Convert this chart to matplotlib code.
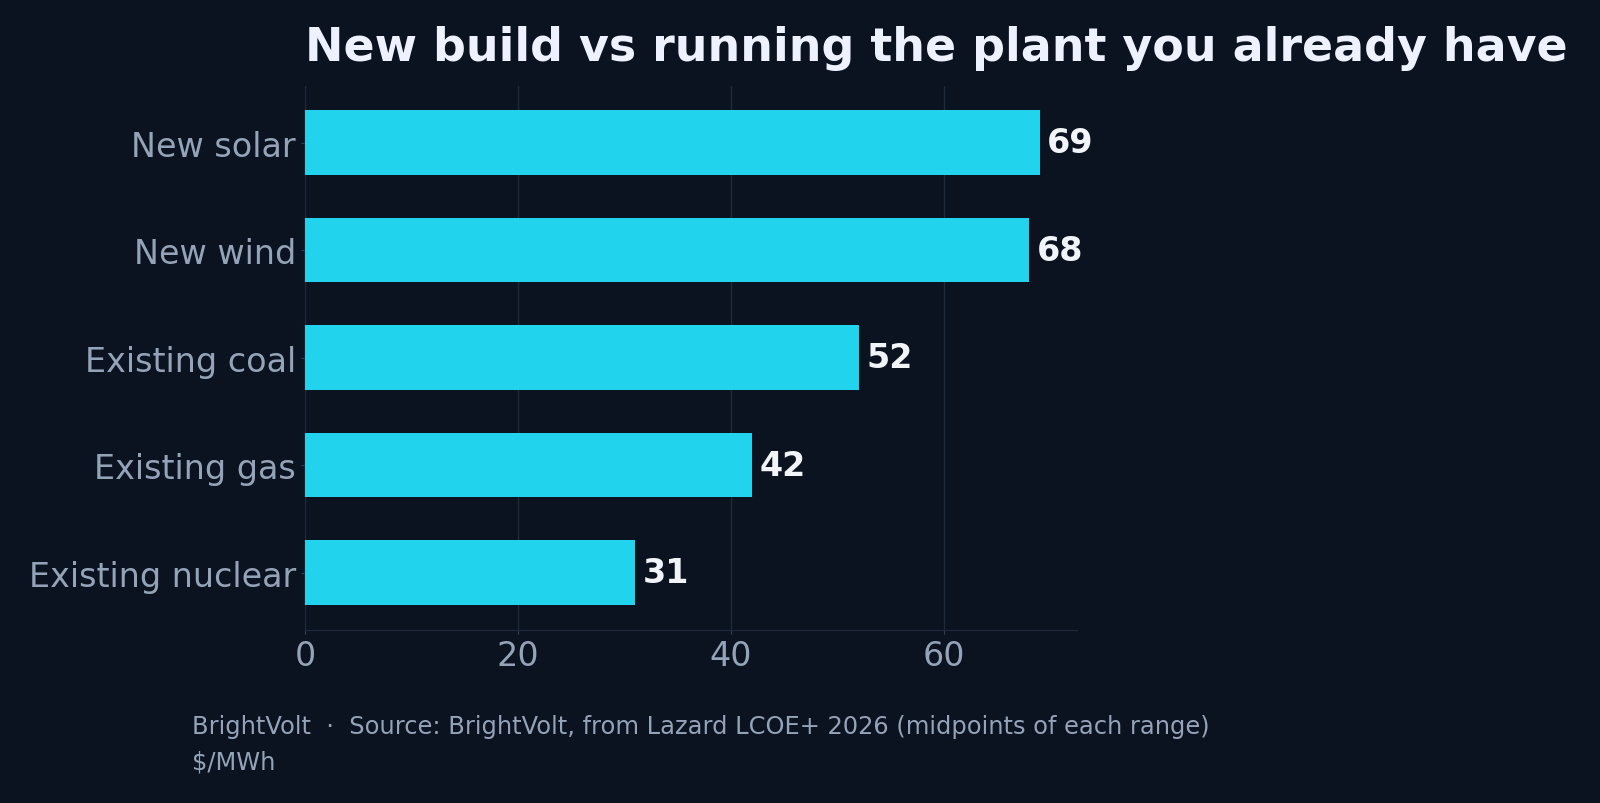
import matplotlib
matplotlib.use("Agg")
import matplotlib.pyplot as plt

categories = ["New solar", "New wind", "Existing coal", "Existing gas", "Existing nuclear"]
values = [69, 68, 52, 42, 31]
xticks = [0, 20, 40, 60]

W, H = 1568, 788
bg = "#0b1320"
fig = plt.figure(figsize=(16, 8.04), dpi=100, facecolor=bg)
ax = fig.add_axes([299/W, 1-618/H, (1055-299)/W, (618-85)/H], facecolor=bg)
y = list(range(len(categories)))
ax.barh(y, values, height=0.6, color="#22d3ee", zorder=3)
ax.invert_yaxis()
ax.set_yticks(y)
ax.set_yticklabels(categories, fontsize=24, color="#94a3b8")
ax.set_xticks(xticks)
ax.set_xticklabels([str(t) for t in xticks], fontsize=24, color="#94a3b8")
ax.set_xlim(0, max(values) * 1.05)
ax.grid(axis="x", color="#1e293b", linewidth=1, zorder=0)
for s in ["top", "right"]:
    ax.spines[s].set_visible(False)
for s in ["left", "bottom"]:
    ax.spines[s].set_color("#1e293b")
ax.tick_params(axis="x", colors="#334155", labelcolor="#94a3b8", length=3)
ax.tick_params(axis="y", colors="#334155", labelcolor="#94a3b8", length=3)
for yi, v in zip(y, values):
    ax.text(v + 0.7, yi, str(v), va="center", ha="left", fontsize=24,
            fontweight="bold", color="#f1f5f9", zorder=4)
fig.text(299/W, 1-48/H, "New build vs running the plant you already have",
         fontsize=33, fontweight="bold", color="#eef2ff", va="center", ha="left")
fig.text(188/W, 1-713/H,
         "BrightVolt  ·  Source: BrightVolt, from Lazard LCOE+ 2026 (midpoints of each range)",
         fontsize=17.4, color="#94a3b8", va="center", ha="left")
fig.text(188/W, 1-747/H, "$/MWh", fontsize=17.4, color="#94a3b8", va="center", ha="left")
fig.savefig("out.png", dpi=100, facecolor=bg)
